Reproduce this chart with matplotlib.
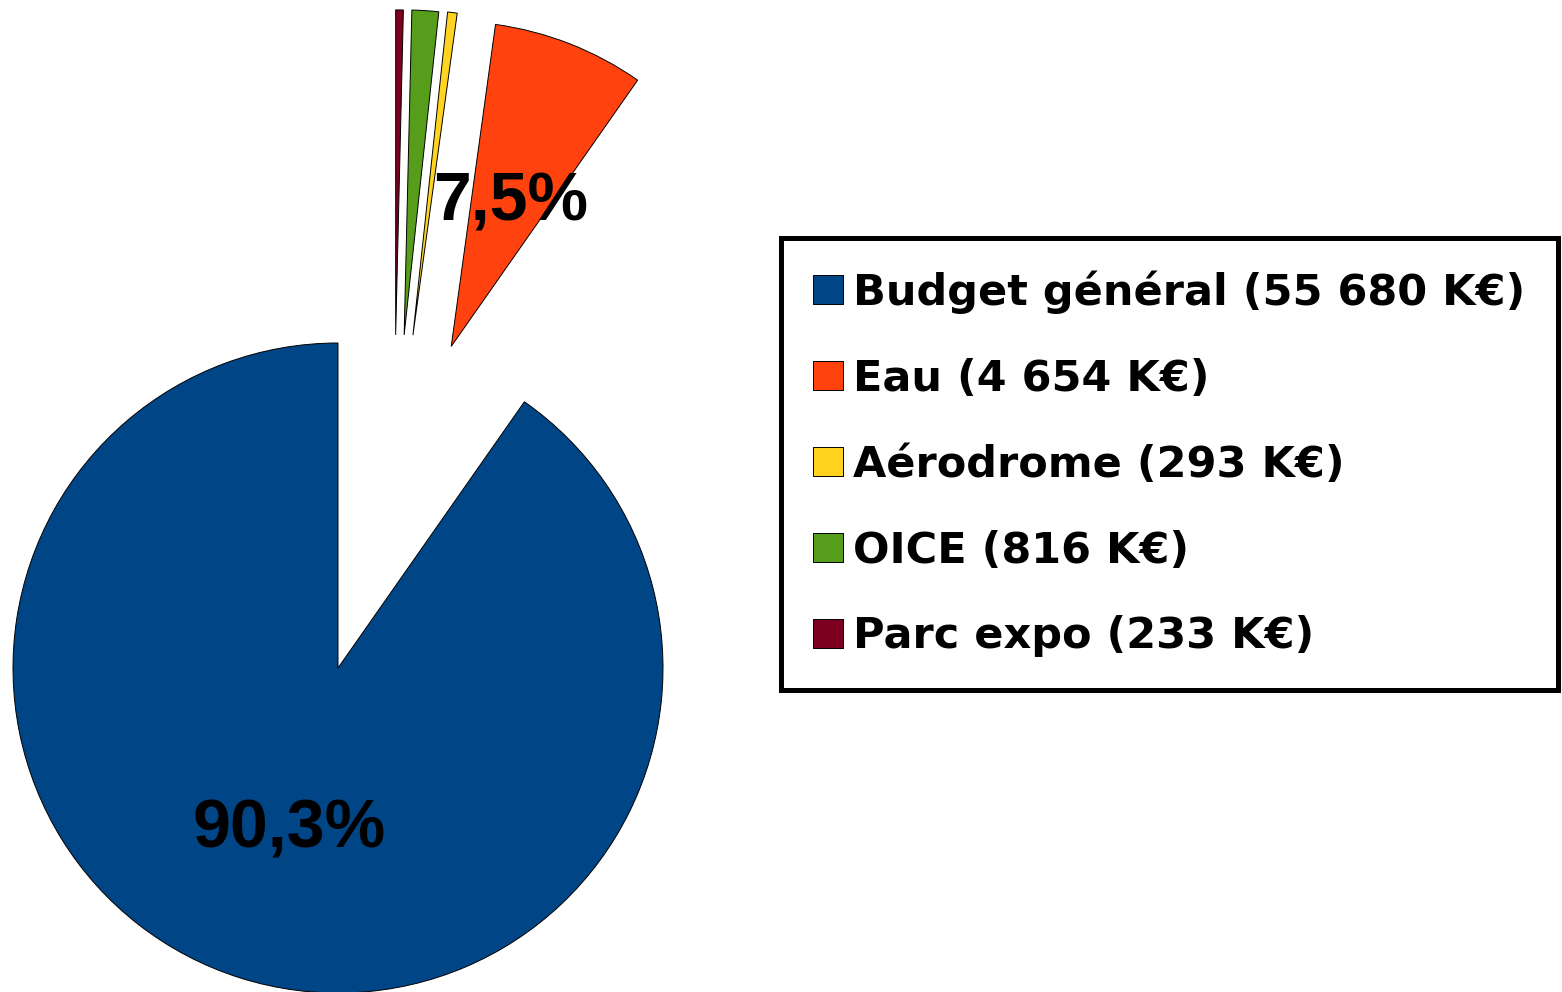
"""
Budget breakdown pie chart (exploded slices, legend on the right).
"""

import matplotlib
matplotlib.use("Agg")
import matplotlib.pyplot as plt

# Data
names = ['Budget général', 'Eau', 'Aérodrome', 'OICE', 'Parc expo']
values = [55680, 4654, 293, 816, 233]  # K€
colors = ['#004586', '#ff420e', '#ffd320', '#579d1c', '#7e0021']
explode = [0, 1.05, 1.05, 1.05, 1.05]

W, H, DPI = 1562, 992, 100
SCALE = 325.0          # pixels per unit radius
CX, CY = 338, 668      # pie centre in pixels (from top-left)

# extra nudge of the detached slices (radius units), to sit like the original
NUDGE = [(0, 0), (-0.035, 0.012), (0.103, -0.018), (0.135, -0.023),
         (0.165, -0.025)]


def fmt_pct(p):
    # only label the two large slices, french decimal comma
    if p < 5:
        return ''
    return f'{p:.1f}%'.replace('.', ',')


def fmt_kilo(v):
    return f'{v:,}'.replace(',', ' ')


fig = plt.figure(figsize=(W / DPI, H / DPI), dpi=DPI)
fig.patch.set_facecolor('white')
ax = fig.add_axes([0, 0, 1, 1])

wedges, texts, autotexts = ax.pie(
    values, explode=explode, colors=colors, startangle=90, counterclock=True,
    radius=1.0, autopct=fmt_pct, pctdistance=0.5,
    wedgeprops=dict(edgecolor='black', linewidth=0.7),
    textprops=dict(family='Liberation Sans', fontweight='bold', fontsize=49,
                   color='black'))

for w, t, (dx, dy) in zip(wedges, autotexts, NUDGE):
    cx, cy = w.center
    w.set_center((cx + dx, cy + dy))
    tx, ty = t.get_position()
    t.set_position((tx + dx, ty + dy))
    t.set_verticalalignment('center_baseline')

ax.set_xlim(-CX / SCALE, (W - CX) / SCALE)
ax.set_ylim(-(H - CY) / SCALE, CY / SCALE)
ax.set_aspect('equal')
ax.axis('off')

labels = [f'{n} ({fmt_kilo(v)} K€)' for n, v in zip(names, values)]
leg = fig.legend(wedges, labels, loc='upper left',
                 bbox_to_anchor=(781 / W, 1 - 238 / H),
                 bbox_transform=fig.transFigure, borderaxespad=0,
                 prop=dict(family='DejaVu Sans', weight='bold', size=31),
                 frameon=True, fancybox=False, framealpha=1,
                 handlelength=0.7, handleheight=0.68, handletextpad=0.23,
                 labelspacing=1.02, borderpad=0.75)
leg.get_frame().set_edgecolor('black')
leg.get_frame().set_linewidth(3.6)
for h in leg.legend_handles:
    h.set_linewidth(0.7)

fig.savefig('out.png', dpi=DPI, facecolor='white')
